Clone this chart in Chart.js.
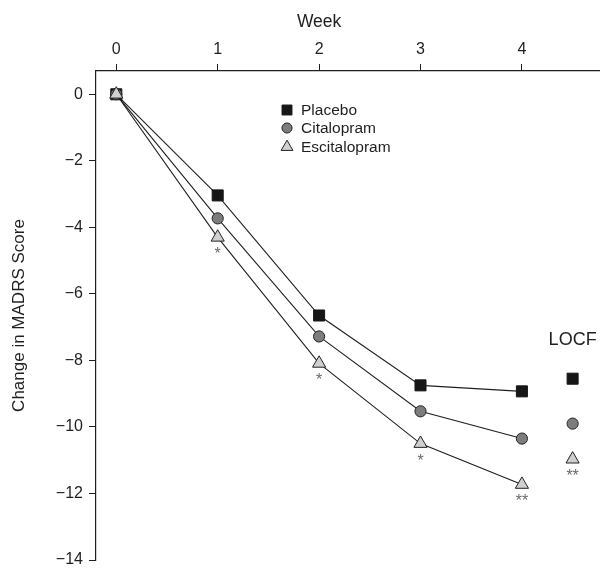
<!DOCTYPE html>
<html>
<head>
<meta charset="utf-8">
<script src="https://cdn.jsdelivr.net/npm/chart.js@4/dist/chart.umd.min.js"></script>
<style>
  body { margin: 0; background: #fff; }
</style>
</head>
<body>
<canvas id="chart1" width="600" height="569"></canvas>
<script>
//weeks and change in MADRS score
const weeks = [0, 1, 2, 3, 4];
const placebo = [0, -3.04, -6.65, -8.75, -8.93];
const citalopram = [0, -3.73, -7.28, -9.53, -10.35];
const escitalopram = [0, -4.3, -8.09, -10.5, -11.73];
const escStars = ["", "*", "*", "*", "**"];

//last observation carried forward
const locfWeek = 4.5;
const placeboLocf = -8.55;
const citalopramLocf = -9.9;
const escitalopramLocf = -10.97;
const escLocfStars = "**";

const xTicks = [0, 1, 2, 3, 4];
const yTicks = [-14, -12, -10, -8, -6, -4, -2, 0];

const seriesNames = ["Placebo", "Citalopram", "Escitalopram"];

const ink = "#1f1f1f";
const font = "Liberation Sans, Arial, sans-serif";

function toPoints(values) {
  return values.map((v, i) => ({ x: weeks[i], y: v }));
}

const styles = [
  { pointStyle: "rect", radius: 7.8, fill: "#161616", border: "#161616" },
  { pointStyle: "circle", radius: 5.6, fill: "#7d7d7d", border: "#222" },
  { pointStyle: "triangle", radius: 7.6, fill: "#cfcfcf", border: "#222" },
];

let allData = [];
[placebo, citalopram, escitalopram].forEach((values, i) => {
  allData.push({
    label: seriesNames[i],
    data: toPoints(values),
    showLine: true,
    borderColor: ink,
    borderWidth: 1.1,
    pointStyle: styles[i].pointStyle,
    pointRadius: styles[i].radius,
    pointBackgroundColor: styles[i].fill,
    pointBorderColor: styles[i].border,
    pointBorderWidth: 1,
    order: 3 - i,
  });
});
[placeboLocf, citalopramLocf, escitalopramLocf].forEach((v, i) => {
  allData.push({
    label: seriesNames[i] + " LOCF",
    data: [{ x: locfWeek, y: v }],
    showLine: false,
    pointStyle: styles[i].pointStyle,
    pointRadius: styles[i].radius,
    pointBackgroundColor: styles[i].fill,
    pointBorderColor: styles[i].border,
    pointBorderWidth: 1,
  });
});

function minusSign(v) {
  return String(v).replace("-", "\u2212");
}

//week title, asterisks, LOCF label and the little legend
const extras = {
  id: "extras",
  afterDatasetsDraw(chart) {
    const ctx = chart.ctx;
    const xs = chart.scales.x;
    const ys = chart.scales.y;
    ctx.save();
    ctx.textAlign = "center";

    ctx.fillStyle = ink;
    ctx.font = "17.5px " + font;
    ctx.textBaseline = "middle";
    ctx.fillText("Week", xs.getPixelForValue(2), 22);

    ctx.fillStyle = "#6a6a6a";
    ctx.font = "16px " + font;
    ctx.textBaseline = "alphabetic";
    for (let i = 0; i < weeks.length; i++) {
      if (escStars[i]) {
        ctx.fillText(escStars[i], xs.getPixelForValue(weeks[i]), ys.getPixelForValue(escitalopram[i]) + 22);
      }
    }
    ctx.fillText(escLocfStars, xs.getPixelForValue(locfWeek), ys.getPixelForValue(escitalopramLocf) + 22);

    ctx.fillStyle = ink;
    ctx.font = "18px " + font;
    ctx.textBaseline = "middle";
    ctx.fillText("LOCF", xs.getPixelForValue(locfWeek), 340);

    //legend
    ctx.font = "15.5px " + font;
    ctx.textAlign = "left";
    const rowY = [110, 128, 147];
    for (let i = 0; i < 3; i++) {
      ctx.fillStyle = styles[i].fill;
      ctx.strokeStyle = styles[i].border;
      ctx.lineWidth = 1;
      Chart.helpers.drawPoint(ctx, {
        pointStyle: styles[i].pointStyle,
        radius: styles[i].radius * 0.9,
        rotation: 0,
        borderWidth: 1,
      }, 287, rowY[i]);
      ctx.fillStyle = ink;
      ctx.fillText(seriesNames[i], 301, rowY[i] + 1);
    }
    ctx.restore();
  },
};

const canvas = document.getElementById("chart1");

new Chart(canvas, {
  type: "scatter",
  data: { datasets: allData },
  plugins: [extras],
  options: {
    responsive: false,
    animation: false,
    layout: { autoPadding: false, padding: { left: 0, right: 0, top: 0, bottom: 9 } },
    plugins: { legend: { display: false }, tooltip: { enabled: false } },
    scales: {
      x: {
        type: "linear",
        position: "top",
        min: -0.2,
        max: 4.77,
        afterBuildTicks: (scale) => {
          scale.ticks = xTicks.map((v) => ({ value: v }));
        },
        afterFit: (scale) => {
          scale.height = 71;
          scale.paddingLeft = 0;
          scale.paddingRight = 0;
        },
        grid: { drawOnChartArea: false, drawTicks: true, tickLength: 7, color: ink },
        border: { display: true, color: ink, width: 1.2 },
        ticks: { color: ink, padding: 5, font: { family: font, size: 16 } },
      },
      y: {
        type: "linear",
        min: -14,
        max: 0.7,
        afterBuildTicks: (scale) => {
          scale.ticks = yTicks.map((v) => ({ value: v }));
        },
        afterFit: (scale) => {
          scale.width = 96;
          scale.paddingTop = 0;
          scale.paddingBottom = 0;
        },
        grid: { drawOnChartArea: false, drawTicks: true, tickLength: 7, color: ink },
        border: { display: true, color: ink, width: 1.2 },
        ticks: {
          color: ink,
          padding: 6,
          font: { family: font, size: 16 },
          callback: (v) => minusSign(v),
        },
        title: {
          display: true,
          text: "Change in MADRS Score",
          color: ink,
          padding: { top: 9, bottom: 0 },
          font: { family: font, size: 17 },
        },
      },
    },
  },
});
</script>
</body>
</html>
